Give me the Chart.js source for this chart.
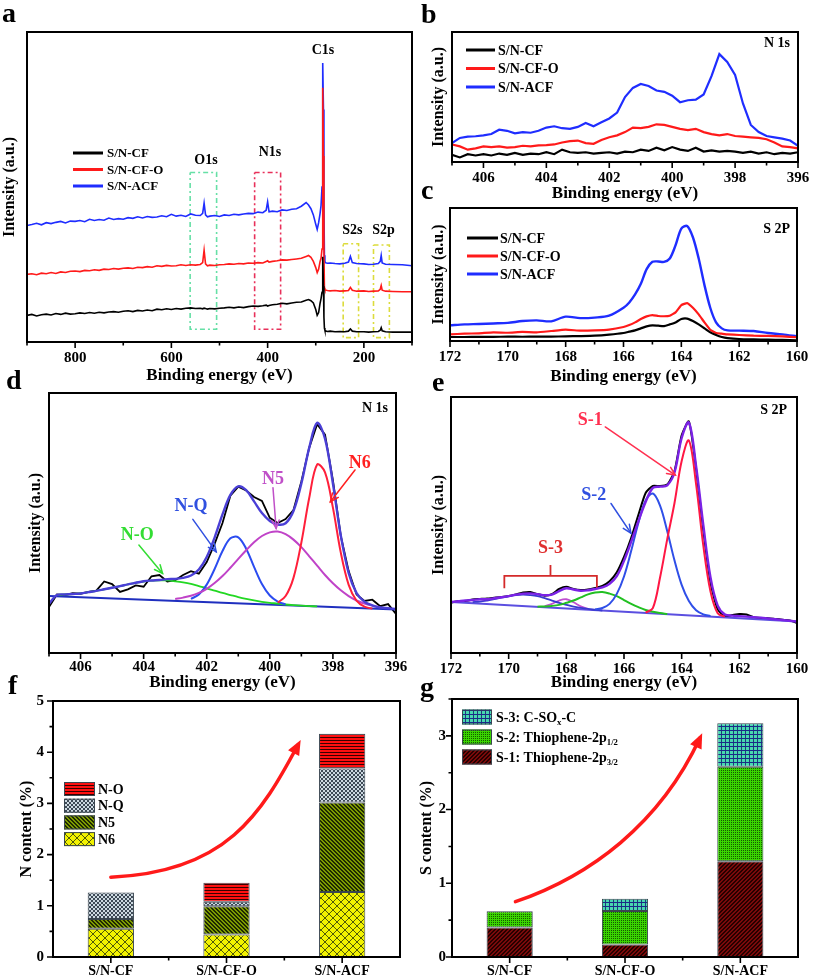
<!DOCTYPE html>
<html><head><meta charset="utf-8">
<script src="https://cdn.jsdelivr.net/npm/chart.js@4.4.1/dist/chart.umd.min.js"></script>
<style>
html,body{margin:0;padding:0;background:#fff;}
body{width:813px;height:979px;position:relative;overflow:hidden;}
canvas{position:absolute;}
.lab{position:absolute;font:bold 28px/28px "Liberation Serif",serif;color:#000;}
</style></head><body>
<canvas id="pa"></canvas><canvas id="pb"></canvas><canvas id="pc"></canvas>
<canvas id="pd"></canvas><canvas id="pe"></canvas><canvas id="pf"></canvas><canvas id="pg"></canvas>
<div class="lab" style="left:2px;top:-1px">a</div>
<div class="lab" style="left:421px;top:0px">b</div>
<div class="lab" style="left:421px;top:176px">c</div>
<div class="lab" style="left:6px;top:366px">d</div>
<div class="lab" style="left:432px;top:368px">e</div>
<div class="lab" style="left:8px;top:671px">f</div>
<div class="lab" style="left:420px;top:673px">g</div>
<script>
// ---------------- DATA ----------------
const sampleNames = ['S/N-CF', 'S/N-CF-O', 'S/N-ACF'];

// (a) survey spectra, binding energy (eV) and intensity (a.u., % of frame height)
const surveyE = [900,890,880,870,860,850,840,830,820,810,
 800,790,780,770,760,750,740,730,720,710,
 700,690,680,670,660,650,640,630,620,610,
 600,590,580,570,560,550,540,535,532,529,
 525,520,510,500,490,480,470,460,450,440,
 430,420,410,403,400,397,390,380,370,360,
 350,340,330,320,315,310,305,300,297,294,
 291,289,287,286,285,284,283,282,281,280,
 276,270,260,250,240,232,228,224,215,200,
 190,180,170,166,164,162,155,140,120,100];
const surveyCF = [8.6,8.9,8.4,8.8,9.0,8.7,9.2,8.9,9.3,9.0,
 9.1,9.4,9.2,9.5,9.3,9.6,9.4,9.7,9.8,9.6,
 9.9,10.1,9.8,10.2,10.0,10.3,10.1,10.6,10.4,10.7,
 10.5,10.8,10.6,10.9,11.0,10.8,10.9,10.7,10.9,10.8,
 10.6,10.8,10.7,10.9,11.0,11.2,11.0,11.3,11.1,11.4,
 11.6,11.5,11.7,11.9,11.6,11.8,12.0,12.2,12.5,12.3,
 12.6,12.8,12.9,13.5,13.7,13.3,12.6,10.5,8.6,9.5,
 12.5,14.0,16.0,20.0,27.5,18.0,8.0,4.5,3.8,3.6,
 3.4,3.5,3.3,3.4,3.3,3.5,4.2,3.5,3.3,3.3,
 3.2,3.3,3.4,3.8,4.6,3.6,3.3,3.2,3.2,3.2];
const surveyCFO = [21.8,22.0,21.7,22.2,22.0,22.4,22.1,22.6,22.4,22.8,
 22.9,22.7,23.1,23.0,23.3,23.1,23.5,23.4,23.7,23.5,
 23.8,23.9,23.7,24.1,24.0,24.3,24.1,24.6,24.4,24.7,
 24.5,24.6,24.9,24.7,24.9,24.8,25.0,25.6,29.6,25.2,
 24.6,24.8,24.7,24.9,25.0,25.2,25.1,25.3,25.2,25.5,
 25.4,25.6,25.5,26.0,26.2,25.8,26.0,26.2,26.5,26.4,
 26.6,26.8,27.0,27.6,27.9,27.3,26.0,24.0,22.4,23.5,
 26.0,27.0,30.0,50.0,82.0,60.0,30.0,17.5,17.0,16.8,
 16.6,16.5,16.6,16.4,16.5,16.6,17.6,16.7,16.4,16.5,
 16.3,16.4,16.5,17.0,18.2,16.7,16.4,16.3,16.2,16.2];
const surveyACF = [37.6,37.9,38.3,37.8,38.5,38.2,38.6,38.9,38.4,39.0,
 38.9,39.2,38.8,39.6,39.2,39.5,39.3,40.0,39.5,39.8,
 39.6,40.1,39.9,40.4,40.0,40.5,40.2,40.3,40.7,40.4,
 41.2,40.6,40.9,40.5,41.3,40.9,40.8,41.5,44.8,41.0,
 40.4,40.6,40.8,40.5,41.0,40.8,41.2,41.0,41.3,41.5,
 41.4,41.9,41.7,42.5,45.2,42.0,42.2,42.0,42.6,42.4,
 42.8,43.0,43.8,45.0,44.2,43.0,41.0,38.0,36.3,38.5,
 41.5,44.0,50.0,70.0,90.0,75.0,45.0,28.0,26.0,25.6,
 25.4,25.5,25.3,25.2,25.4,25.8,27.6,25.6,25.3,25.2,
 25.0,25.1,25.3,26.0,27.9,25.5,25.1,25.0,24.9,24.6];
// dashed boxes in survey: [E high, E low, I low, I high]
const surveyBoxO1s = [561, 506, 4.1, 54.7];
const surveyBoxN1s = [427, 373, 4.1, 54.7];
const surveyBoxS2s = [243, 211, 1.4, 31.7];
const surveyBoxS2p = [180, 147, 1.4, 31.3];

// (b) N 1s spectra
const n1sE = [407,406.75,406.5,406.25,406,405.75,405.5,405.25,405,404.75,
 404.5,404.25,404,403.75,403.5,403.25,403,402.75,402.5,402.25,
 402,401.75,401.5,401.25,401,400.75,400.5,400.25,400,399.75,
 399.5,399.25,399,398.75,398.5,398.25,398,397.75,397.5,397.25,
 397,396.75,396.5,396.25,396];
const n1sCF = [5.5,3.5,6.0,5.0,6.0,5.0,6.5,5.5,7.0,5.5,
 6.5,6.0,7.5,6.0,9.5,7.5,7.0,7.5,6.5,7.0,
 7.5,6.5,8.0,7.5,9.5,8.5,11.0,9.0,11.5,9.5,
 8.5,11.0,8.0,9.0,8.0,8.5,8.0,7.0,8.0,6.5,
 7.5,6.0,7.0,6.5,7.5];
const n1sCFO = [13.5,12.0,9.5,10.5,12.0,11.5,12.0,11.0,11.5,12.5,
 12.0,12.8,13.0,13.5,15.0,16.0,16.5,14.5,14.0,17.0,
 19.0,20.5,23.0,26.5,26.0,27.0,29.0,28.5,27.0,25.5,
 24.5,25.5,23.0,21.5,20.5,21.5,20.0,19.5,19.0,18.5,
 17.5,15.0,12.0,11.5,10.5];
const n1sACF = [14.6,18.5,19.5,19.8,20.5,21.5,24.8,24.0,22.0,23.0,
 22.5,24.0,26.5,27.5,26.0,25.5,27.0,30.0,27.5,30.5,
 33.5,38.0,50.0,57.0,60.0,58.5,55.0,54.0,51.0,46.0,
 47.5,48.0,52.0,66.0,83.0,77.0,67.0,45.0,28.5,23.0,
 20.0,19.0,18.0,16.5,12.5];

// (c) S 2p spectra
const s2pE = [172,171.5,171,170.5,170,169.5,169,168.5,168,167.5,167,166.5,166,
 165.8,165.6,165.4,165.2,165,164.8,164.6,164.4,164.2,164,163.8,163.6,163.4,163.2,163,162.8,162.6,162.4,
 162,161.5,161,160.5,160];
const s2pCF = [3.0,3.0,3.2,3.1,3.3,3.2,3.4,3.3,3.5,3.7,4.0,4.8,6.0,
 7.0,8.0,9.5,11.0,11.8,11.5,11.2,12.5,14.0,16.5,16.8,15.0,12.5,9.5,6.5,4.5,3.0,2.2,
 1.5,1.2,1.0,0.8,0.5];
const s2pCFO = [5.0,5.5,5.8,6.5,6.2,6.8,6.5,7.5,8.5,7.8,8.0,8.6,10.5,
 12.0,14.0,16.5,18.5,19.5,18.8,18.6,19.0,21.5,27.0,28.5,25.0,20.0,14.0,8.5,6.0,5.5,5.0,
 4.5,4.0,3.8,3.5,2.8];
const s2pACF = [11.8,12.5,12.8,13.2,13.6,15.0,15.5,14.8,18.3,17.2,17.6,19.0,25.0,
 29.0,35.0,43.0,54.0,59.5,59.8,59.5,62.0,72.0,84.5,86.5,78.0,62.0,42.0,25.0,14.0,9.5,8.0,
 7.8,7.5,6.0,5.0,3.5];

// (d) N 1s fit of S/N-ACF (same energy grid as n1sE)
const nFitRaw = [17.7,22.5,22.2,23.0,22.8,23.5,24.0,27.5,26.5,23.5,
 24.5,26.0,25.5,29.5,30.0,27.5,28.0,30.0,31.5,30.5,
 35.0,42.0,50.0,60.5,64.0,62.5,60.0,58.5,52.0,50.0,
 51.5,55.0,66.0,79.0,88.0,84.0,66.5,45.0,31.5,22.5,
 20.0,20.5,18.0,18.8,15.0];
const nFitSum = [19.0,22.3,22.5,22.7,22.9,23.4,23.9,24.5,25.1,25.7,
 26.4,27.0,27.6,27.9,28.1,28.4,28.5,28.9,29.8,32.1,
 36.9,44.4,53.3,60.8,64.1,62.6,58.3,53.8,50.8,49.4,
 49.9,54.6,65.2,79.0,88.5,82.4,65.2,45.2,30.7,23.0,
 19.7,18.3,17.5,17.2,16.9];
const nFitNO = [null,22.3,22.5,22.7,22.9,23.4,23.9,24.5,25.1,25.7,
 26.4,27.0,27.5,27.8,27.9,27.9,27.6,27.2,26.6,25.7,
 24.9,24.0,23.1,22.3,21.5,20.8,20.2,19.7,19.3,19.0,
 18.65,18.4,18.2,18.05,17.9,null,null,null,null,null,
 null,null,null,null,null];
const nFitNQ = [null,null,null,null,null,null,null,null,null,null,
 null,null,null,null,null,null,null,null,20.8,22.5,
 26.3,32.3,39.2,44.1,44.5,40.1,33.1,26.5,22.1,19.8,
 18.7,null,null,null,null,null,null,null,null,null,
 null,null,null,null,null];
const nFitN5 = [null,null,null,null,null,null,null,null,null,null,
 null,null,null,null,null,null,20.8,21.3,22.0,23.1,
 24.7,26.9,29.6,32.8,36.2,39.5,42.6,45.0,46.4,46.7,
 45.7,43.6,40.7,37.2,33.6,30.0,26.8,24.1,21.9,20.2,
 19.0,18.2,17.6,null,null];
const nFitN6 = [null,null,null,null,null,null,null,null,null,null,
 null,null,null,null,null,null,null,null,null,null,
 null,null,null,null,null,null,null,null,null,19.4,
 21.9,28.9,42.5,59.7,72.5,69.5,55.9,38.6,26.2,20.1,
 17.8,17.05,null,null,null];
const nBaseE = [407, 396];
const nBaseI = [21.9, 16.7];

// (e) S 2p fit of S/N-ACF
const sFitE = [172,171.75,171.5,171.25,171,170.75,170.5,170.25,170,169.75,
 169.5,169.25,169,168.75,168.5,168.25,168,167.75,167.5,167.25,
 167,166.75,166.5,166.25,166,165.75,165.5,165.25,165,164.75,
 164.5,164.25,164,163.75,163.5,163.25,163,162.75,162.5,162.25,
 162,161.75,161.5,161.25,161,160.75,160.5,160.25,160];
const sFitRaw = [19.6,20.3,20.3,20.9,21.1,21.3,21.6,21.9,22.3,22.9,
 23.6,23.8,23.0,22.4,23.0,25.0,25.9,25.0,24.6,24.8,
 25.4,26.2,28.0,31.5,37.5,45.0,54.0,62.5,65.3,65.2,
 65.8,71.0,85.0,90.5,72.0,48.0,27.5,17.0,14.4,14.8,
 15.2,15.0,14.0,13.7,13.6,13.3,13.0,12.7,11.8];
const sFitSum = [19.9,20.2,20.5,20.7,21.0,21.0,21.4,21.8,22.2,22.8,
 23.2,23.3,23.0,22.6,22.8,24.2,25.3,24.8,24.3,24.5,
 25.0,25.6,27.0,30.0,36.0,43.5,51.5,59.0,64.5,65.0,
 65.5,70.5,84.0,90.0,73.0,50.0,29.5,18.5,15.0,14.6,
 14.4,14.2,14.0,13.8,13.5,13.2,12.9,12.6,12.3];
const sFitS1 = [null,null,null,null,null,null,null,null,null,null,
 null,null,null,null,null,null,null,null,null,null,
 null,null,null,null,null,null,null,15.8,17.5,29.5,
 44.5,58.5,75.0,83.0,66.0,42.0,24.0,15.5,14.2,null,
 null,null,null,null,null,null,null,null,null];
const sFitS2 = [null,null,null,null,null,null,null,null,null,null,
 null,null,null,null,null,null,null,null,null,null,
 17.0,17.6,19.2,23.1,29.9,39.9,50.9,59.6,62.3,57.6,
 47.6,36.2,26.6,20.3,16.7,15.1,14.4,null,null,null,
 null,null,null,null,null,null,null,null,null];
const sFitS3a = [null,null,null,null,null,null,null,null,null,null,
 null,null,18.1,18.2,18.4,18.8,19.6,20.5,21.7,22.9,
 23.6,23.8,23.2,22.2,20.7,19.2,17.9,16.8,16.1,15.6,
 15.2,null,null,null,null,null,null,null,null,null,
 null,null,null,null,null,null,null,null,null];
const sFitS3b = [null,null,null,19.9,20.1,20.5,21.0,21.6,22.1,22.6,
 22.8,22.6,22.2,21.4,20.5,19.6,18.8,18.1,17.6,17.2,
 16.9,16.6,null,null,null,null,null,null,null,null,
 null,null,null,null,null,null,null,null,null,null,
 null,null,null,null,null,null,null,null,null];
const sFitS3c = [null,null,null,null,null,null,null,null,null,null,
 null,null,null,18.3,19.2,20.5,21.0,19.8,18.2,17.2,
 null,null,null,null,null,null,null,null,null,null,
 null,null,null,null,null,null,null,null,null,null,
 null,null,null,null,null,null,null,null,null];
const sBaseE = [172, 160];
const sBaseI = [19.9, 12.3];
const s3BracketE = [170.15,170.15,168.55,168.55,168.55,166.94,166.94];
const s3BracketI = [25.3,30.1,30.1,34.4,30.1,30.1,25.3];

// (f) N content (%)
const nN6 = [0.55, 0.44, 1.27];
const nN5 = [0.19, 0.55, 1.75];
const nNQ = [0.52, 0.09, 0.66];
const nNO = [null, 0.37, 0.68];
// (g) S content (%)
const sS1 = [0.40, 0.17, 1.30];
const sS2 = [0.22, 0.455, 1.28];
const sS3 = [null, 0.165, 0.59];

// ---------------- HELPERS ----------------
const FONT = '"Liberation Serif", "Times New Roman", serif';
Chart.defaults.font.family = FONT;
Chart.defaults.font.weight = 'bold';
Chart.defaults.color = '#000';

const xy = (xs, ys) => xs.map((x, i) => ({x: x, y: ys[i]}));
const boxPts = b => [{x:b[0],y:b[3]},{x:b[1],y:b[3]},{x:b[1],y:b[2]},{x:b[0],y:b[2]},{x:b[0],y:b[3]}];

function tile(w, h, bg, fn) {
  const c = document.createElement('canvas'); c.width = w; c.height = h;
  const g = c.getContext('2d'); g.fillStyle = bg; g.fillRect(0, 0, w, h);
  for (let y = 0; y < h; y++) for (let x = 0; x < w; x++) {
    const col = fn(x, y); if (col) { g.fillStyle = col; g.fillRect(x, y, 1, 1); }
  }
  return g.createPattern(c, 'repeat');
}
const PAT = {
  N6: tile(8, 8, '#f2f200', (x, y) => (x === y || x + y === 7) ? '#4f5a08' : null),
  N5: tile(4, 4, '#7d9a00', (x, y) => ((x - y + 8) % 4 < 2) ? '#1e2a00' : null),
  NQ: tile(4, 4, '#cdd9e1', (x, y) => ((Math.floor(x / 2) + Math.floor(y / 2)) % 2 === 0) ? '#3e4a56' : null),
  NO: tile(1, 3, '#ff1010', (x, y) => y === 2 ? '#3a0000' : null),
  S1: tile(4, 4, '#7a0a0a', (x, y) => ((x + y) % 4 < 2) ? '#260000' : null),
  S2: tile(4, 4, '#3ad400', (x, y) => (x % 2 === 0 && y % 2 === 0) ? '#145a00' : null),
  S3: tile(4, 4, '#48d8b0', (x, y) => y === 0 ? '#1a2a8a' : (x === 0 ? '#203a7a' : null))
};

function richText(ctx, str, x, y, size) {
  const parts = str.split(/(_\{[^}]*\})/);
  let cx = x;
  parts.forEach(p => {
    if (!p) return;
    if (p.startsWith('_{')) {
      const t = p.slice(2, -1);
      ctx.font = 'bold ' + (size * 0.62) + 'px ' + FONT;
      ctx.fillText(t, cx, y + size * 0.32); cx += ctx.measureText(t).width;
    } else {
      ctx.font = 'bold ' + size + 'px ' + FONT;
      ctx.fillText(p, cx, y); cx += ctx.measureText(p).width;
    }
  });
}
function vHead(ctx, x1, y1, x2, y2, len, ang) {
  const a = Math.atan2(y2 - y1, x2 - x1);
  ctx.beginPath();
  ctx.moveTo(x2 - len * Math.cos(a - ang), y2 - len * Math.sin(a - ang));
  ctx.lineTo(x2, y2);
  ctx.lineTo(x2 - len * Math.cos(a + ang), y2 - len * Math.sin(a + ang));
  ctx.stroke();
}

const deco = {
  id: 'deco',
  afterDraw(chart) {
    const o = chart.options.plugins.deco || {};
    const ctx = chart.ctx, ca = chart.chartArea;
    const xs = chart.scales.x, ys = chart.scales.y;
    ctx.save();
    ctx.textBaseline = 'middle';
    // texts in data coordinates
    (o.texts || []).forEach(t => {
      ctx.font = 'bold ' + (t.size || 14) + 'px ' + FONT;
      ctx.fillStyle = t.color || '#000';
      ctx.textAlign = 'center';
      ctx.fillText(t.text, xs.getPixelForValue(t.x), ys.getPixelForValue(t.y));
    });
    // straight arrows
    (o.arrows || []).forEach(a => {
      const x1 = xs.getPixelForValue(a.from[0]), y1 = ys.getPixelForValue(a.from[1]);
      const x2 = xs.getPixelForValue(a.to[0]), y2 = ys.getPixelForValue(a.to[1]);
      ctx.strokeStyle = a.color; ctx.lineWidth = 1.5; ctx.lineCap = 'round';
      ctx.beginPath(); ctx.moveTo(x1, y1); ctx.lineTo(x2, y2); ctx.stroke();
      vHead(ctx, x1, y1, x2, y2, 9, 0.42);
    });
    // curved arrows
    (o.curves || []).forEach(c => {
      const P = c.pts.map(p => [xs.getPixelForValue(p[0]), ys.getPixelForValue(p[1])]);
      ctx.strokeStyle = c.color; ctx.lineWidth = c.width; ctx.lineCap = 'round';
      ctx.beginPath(); ctx.moveTo(P[0][0], P[0][1]);
      ctx.bezierCurveTo(P[1][0], P[1][1], P[2][0], P[2][1], P[3][0], P[3][1]); ctx.stroke();
      const a = Math.atan2(P[3][1] - P[2][1], P[3][0] - P[2][0]);
      const L = c.head, W = c.head * 0.42, dx = Math.cos(a), dy = Math.sin(a);
      const tx = P[3][0] + dx * L * 0.35, ty = P[3][1] + dy * L * 0.35;
      const bx = P[3][0] - dx * L * 0.65, by = P[3][1] - dy * L * 0.65;
      ctx.fillStyle = c.color; ctx.beginPath();
      ctx.moveTo(tx, ty); ctx.lineTo(bx - dy * W, by + dx * W); ctx.lineTo(bx + dy * W, by - dx * W);
      ctx.closePath(); ctx.fill();
    });
    // corner label
    if (o.corner) {
      ctx.font = 'bold 14px ' + FONT; ctx.fillStyle = '#000'; ctx.textAlign = 'right';
      ctx.fillText(o.corner.text, ca.right + o.corner.dx, ca.top + o.corner.dy);
    }
    // line legend
    if (o.lineLegend) {
      const L = o.lineLegend;
      L.items.forEach((di, k) => {
        const ds = chart.data.datasets[di];
        const x = ca.left + L.dx, y = ca.top + L.dy + k * L.gap;
        ctx.strokeStyle = ds.borderColor; ctx.lineWidth = 3; ctx.lineCap = 'butt';
        ctx.beginPath(); ctx.moveTo(x, y); ctx.lineTo(x + L.len, y); ctx.stroke();
        ctx.fillStyle = '#000'; ctx.textAlign = 'left';
        ctx.font = 'bold ' + L.size + 'px ' + FONT;
        ctx.fillText(ds.label, x + L.textDx, y + 1);
      });
    }
    // bar legend
    if (o.barLegend) {
      const L = o.barLegend;
      L.items.forEach((di, k) => {
        const ds = chart.data.datasets[di];
        const x = ca.left + L.dx, y = ca.top + L.dy + k * L.gap;
        ctx.fillStyle = ds.backgroundColor; ctx.fillRect(x, y - L.h / 2, L.w, L.h);
        ctx.strokeStyle = '#3a4650'; ctx.lineWidth = 1; ctx.strokeRect(x + 0.5, y - L.h / 2 + 0.5, L.w - 1, L.h - 1);
        ctx.fillStyle = '#000'; ctx.textAlign = 'left';
        richText(ctx, ds.label, x + L.textDx, y + 1, L.size);
      });
    }
    // frame
    ctx.strokeStyle = '#000'; ctx.lineWidth = 2; ctx.lineCap = 'butt';
    ctx.strokeRect(ca.left, ca.top, ca.right - ca.left, ca.bottom - ca.top);
    // x ticks (outward)
    ctx.lineWidth = 1.6;
    ctx.beginPath();
    if (o.category) {
      const n = xs.ticks.length;
      for (let i = 0; i < n; i++) {
        const px = xs.getPixelForValue(i);
        ctx.moveTo(px, ca.bottom); ctx.lineTo(px, ca.bottom + 6);
        if (i < n - 1) { const pm = xs.getPixelForValue(i + 0.5); ctx.moveTo(pm, ca.bottom); ctx.lineTo(pm, ca.bottom + 3.5); }
      }
    } else {
      xs.ticks.forEach(t => {
        const px = xs.getPixelForValue(t.value);
        const len = (t.label !== '' && t.label != null) ? 6 : 3.5;
        ctx.moveTo(px, ca.bottom); ctx.lineTo(px, ca.bottom + len);
      });
    }
    if (o.yTicks) {
      ys.ticks.forEach(t => {
        const py = ys.getPixelForValue(t.value);
        const len = (t.label !== '' && t.label != null) ? 6 : 3.5;
        ctx.moveTo(ca.left, py); ctx.lineTo(ca.left - len, py);
      });
    }
    ctx.stroke();
    ctx.restore();
  }
};

function place(id, g) {
  const cv = document.getElementById(id);
  cv.width = g.w; cv.height = g.h;
  cv.style.left = g.x + 'px'; cv.style.top = g.y + 'px';
  return cv;
}

function spectrum(id, g, c) {
  const cv = place(id, g);
  return new Chart(cv, {
    type: 'line',
    data: { datasets: c.datasets },
    options: {
      responsive: false, animation: false, devicePixelRatio: 1,
      layout: { padding: { top: g.pt, right: g.pr, left: 0, bottom: 0 } },
      plugins: { legend: { display: false }, tooltip: { enabled: false }, deco: c.deco },
      elements: { point: { radius: 0 }, line: { borderWidth: 2, tension: 0 } },
      scales: {
        x: {
          type: 'linear', reverse: true, min: c.xmin, max: c.xmax,
          grid: { display: false, drawTicks: false }, border: { display: false },
          ticks: { stepSize: c.step, autoSkip: false, maxRotation: 0, padding: g.tp,
                   font: { size: 15, weight: 'bold' }, color: '#000', callback: c.label },
          title: { display: true, text: 'Binding energy (eV)', font: { size: 17, weight: 'bold' }, color: '#000', padding: 0 },
          afterFit: s => { s.height = g.hx; s.paddingLeft = 0; s.paddingRight = 0; }
        },
        y: {
          min: 0, max: 100,
          grid: { display: false, drawTicks: false }, border: { display: false },
          ticks: { display: false },
          title: { display: true, text: 'Intensity (a.u.)', font: { size: 16, weight: 'bold' }, color: '#000', padding: 0 },
          afterFit: s => { s.width = g.wy; s.paddingTop = 0; s.paddingBottom = 0; }
        }
      }
    },
    plugins: [deco]
  });
}

function bars(id, g, c) {
  const cv = place(id, g);
  return new Chart(cv, {
    type: 'bar',
    data: { labels: sampleNames, datasets: c.datasets.map(d => Object.assign({
      borderColor: '#3a4650', borderWidth: 1, borderSkipped: false,
      barPercentage: 0.4, categoryPercentage: 1 }, d)) },
    options: {
      responsive: false, animation: false, devicePixelRatio: 1,
      layout: { padding: { top: g.pt, right: g.pr, left: 0, bottom: 0 } },
      plugins: { legend: { display: false }, tooltip: { enabled: false }, deco: c.deco },
      scales: {
        x: {
          stacked: true, grid: { display: false, drawTicks: false }, border: { display: false },
          ticks: { padding: g.tp, font: { size: 14, weight: 'bold' }, color: '#000', maxRotation: 0 },
          afterFit: s => { s.height = g.hx; s.paddingLeft = 0; s.paddingRight = 0; }
        },
        y: {
          stacked: true, min: 0, max: c.ymax,
          grid: { display: false, drawTicks: false }, border: { display: false },
          ticks: { stepSize: 0.5, autoSkip: false, padding: g.yp, font: { size: 15, weight: 'bold' }, color: '#000',
                   callback: v => Number.isInteger(v) ? v : '' },
          title: { display: true, text: c.ytitle, font: { size: 16, weight: 'bold' }, color: '#000', padding: 0 },
          afterFit: s => { s.width = g.wy; s.paddingTop = 0; s.paddingBottom = 0; }
        }
      }
    },
    plugins: [deco]
  });
}

const BLK = '#000000', RED = '#ff1a1a', BLU = '#1f2dff';

// ---------------- (a) ----------------
spectrum('pa', { x: 0, y: 0, w: 430, h: 386, pt: 32, pr: 18, wy: 27, hx: 44, tp: 7 }, {
  xmin: 100, xmax: 900, step: 100, label: v => (v % 200 === 0 ? v : ''),
  datasets: [
    { label: sampleNames[0], data: xy(surveyE, surveyCF), borderColor: BLK, borderWidth: 1.6 },
    { label: sampleNames[1], data: xy(surveyE, surveyCFO), borderColor: RED, borderWidth: 1.6 },
    { label: sampleNames[2], data: xy(surveyE, surveyACF), borderColor: BLU, borderWidth: 1.6 },
    { data: boxPts(surveyBoxO1s), borderColor: '#66e0a6', borderWidth: 1.6, borderDash: [5, 3, 2, 3] },
    { data: boxPts(surveyBoxN1s), borderColor: '#e8305a', borderWidth: 1.6, borderDash: [5, 3, 2, 3] },
    { data: boxPts(surveyBoxS2s), borderColor: '#dcdc3c', borderWidth: 1.6, borderDash: [5, 3, 2, 3] },
    { data: boxPts(surveyBoxS2p), borderColor: '#dcdc3c', borderWidth: 1.6, borderDash: [5, 3, 2, 3] }
  ],
  deco: {
    lineLegend: { items: [0, 1, 2], dx: 46, dy: 121, gap: 16.5, len: 30, textDx: 34, size: 13 },
    texts: [
      { text: 'C1s', x: 285, y: 94.2 }, { text: 'O1s', x: 528, y: 58.5 }, { text: 'N1s', x: 395, y: 61.2 },
      { text: 'S2s', x: 224, y: 36 }, { text: 'S2p', x: 159, y: 36 }
    ]
  }
});

// ---------------- (b) ----------------
spectrum('pb', { x: 429, y: 0, w: 384, h: 204, pt: 32, pr: 15, wy: 23, hx: 42, tp: 7 }, {
  xmin: 396, xmax: 407, step: 1, label: v => (v % 2 === 0 ? v : ''),
  datasets: [
    { label: sampleNames[0], data: xy(n1sE, n1sCF), borderColor: BLK, borderWidth: 2.2 },
    { label: sampleNames[1], data: xy(n1sE, n1sCFO), borderColor: RED, borderWidth: 2.2 },
    { label: sampleNames[2], data: xy(n1sE, n1sACF), borderColor: BLU, borderWidth: 2.2 }
  ],
  deco: {
    lineLegend: { items: [0, 1, 2], dx: 14, dy: 18, gap: 18.5, len: 29, textDx: 32, size: 14 },
    corner: { text: 'N 1s', dx: -8, dy: 11 }
  }
});

// ---------------- (c) ----------------
spectrum('pc', { x: 429, y: 190, w: 384, h: 197, pt: 18, pr: 16, wy: 21, hx: 46, tp: 7 }, {
  xmin: 160, xmax: 172, step: 1, label: v => (v % 2 === 0 ? v : ''),
  datasets: [
    { label: sampleNames[0], data: xy(s2pE, s2pCF), borderColor: BLK, borderWidth: 2.2, tension: 0.2 },
    { label: sampleNames[1], data: xy(s2pE, s2pCFO), borderColor: RED, borderWidth: 2.2, tension: 0.1 },
    { label: sampleNames[2], data: xy(s2pE, s2pACF), borderColor: BLU, borderWidth: 2.4, tension: 0.3 }
  ],
  deco: {
    lineLegend: { items: [0, 1, 2], dx: 17, dy: 30, gap: 18, len: 31, textDx: 33, size: 14 },
    corner: { text: 'S 2P', dx: -7, dy: 21 }
  }
});

// ---------------- (d) ----------------
spectrum('pd', { x: 26, y: 370, w: 388, h: 323, pt: 23, pr: 18, wy: 23, hx: 40, tp: 5 }, {
  xmin: 396, xmax: 407, step: 1, label: v => (v % 2 === 0 ? v : ''),
  datasets: [
    { data: xy(n1sE, nFitSum), borderColor: '#4a3fd6', borderWidth: 2.4, tension: 0.35 },
    { data: xy(n1sE, nFitN6), borderColor: '#ff1f3a', borderWidth: 2, tension: 0.35 },
    { data: xy(n1sE, nFitN5), borderColor: '#c043c8', borderWidth: 2, tension: 0.35 },
    { data: xy(n1sE, nFitNQ), borderColor: '#2b4cf0', borderWidth: 2, tension: 0.35 },
    { data: xy(n1sE, nFitNO), borderColor: '#22d822', borderWidth: 1.8, tension: 0.35 },
    { data: xy(nBaseE, nBaseI), borderColor: '#1f2fbf', borderWidth: 2 },
    { data: xy(n1sE, nFitRaw), borderColor: '#000', borderWidth: 1.8 }
  ],
  deco: {
    corner: { text: 'N 1s', dx: -8, dy: 15 },
    texts: [
      { text: 'N-O', x: 404.2, y: 45.4, color: '#33dd33', size: 18 },
      { text: 'N-Q', x: 402.5, y: 56.3, color: '#3050e0', size: 18 },
      { text: 'N5', x: 399.9, y: 66.6, color: '#c050c8', size: 18 },
      { text: 'N6', x: 397.15, y: 72.8, color: '#ff2020', size: 18 }
    ],
    arrows: [
      { from: [404.15, 41.5], to: [403.4, 30.6], color: '#33dd33' },
      { from: [402.44, 51.4], to: [401.7, 38.9], color: '#3050e0' },
      { from: [399.9, 63.6], to: [399.8, 47.9], color: '#c050c8' },
      { from: [397.3, 70.4], to: [398.08, 58.2], color: '#ff2020' }
    ]
  }
});

// ---------------- (e) ----------------
spectrum('pe', { x: 429, y: 370, w: 384, h: 323, pt: 27, pr: 16, wy: 22, hx: 40, tp: 7 }, {
  xmin: 160, xmax: 172, step: 1, label: v => (v % 2 === 0 ? v : ''),
  datasets: [
    { data: xy(sFitE, sFitSum), borderColor: '#7b22e6', borderWidth: 2.4, tension: 0.35 },
    { data: xy(sFitE, sFitS1), borderColor: '#ff1744', borderWidth: 2, tension: 0.35 },
    { data: xy(sFitE, sFitS2), borderColor: '#2f4fe8', borderWidth: 2, tension: 0.35 },
    { data: xy(sFitE, sFitS3a), borderColor: '#22c022', borderWidth: 2, tension: 0.35 },
    { data: xy(sFitE, sFitS3b), borderColor: '#3a3ad0', borderWidth: 1.8, tension: 0.35 },
    { data: xy(sFitE, sFitS3c), borderColor: '#c050d0', borderWidth: 1.8, tension: 0.35 },
    { data: xy(sBaseE, sBaseI), borderColor: '#5b4fe0', borderWidth: 2 },
    { data: xy(s3BracketE, s3BracketI), borderColor: '#d42a2a', borderWidth: 1.8 },
    { data: xy(sFitE, sFitRaw), borderColor: '#000', borderWidth: 2, tension: 0.2 }
  ],
  deco: {
    corner: { text: 'S 2P', dx: -10, dy: 13 },
    texts: [
      { text: 'S-1', x: 167.17, y: 90.9, color: '#ff3050', size: 18 },
      { text: 'S-2', x: 167.05, y: 61.7, color: '#3050e0', size: 18 },
      { text: 'S-3', x: 168.55, y: 40.9, color: '#e03030', size: 18 }
    ],
    arrows: [
      { from: [166.65, 88.3], to: [164.22, 69.5], color: '#ff3050' },
      { from: [166.45, 58.4], to: [165.76, 46.8], color: '#3050e0' }
    ]
  }
});

// ---------------- (f) ----------------
bars('pf', { x: 17, y: 690, w: 393, h: 289, pt: 11, pr: 10, wy: 36, hx: 22, tp: 6, yp: 9 }, {
  ymax: 5, ytitle: 'N content (%)',
  datasets: [
    { label: 'N6', data: nN6, backgroundColor: PAT.N6 },
    { label: 'N5', data: nN5, backgroundColor: PAT.N5 },
    { label: 'N-Q', data: nNQ, backgroundColor: PAT.NQ },
    { label: 'N-O', data: nNO, backgroundColor: PAT.NO }
  ],
  deco: {
    category: true, yTicks: true,
    barLegend: { items: [3, 2, 1, 0], dx: 11, dy: 88, gap: 16.7, w: 31, h: 14, textDx: 34, size: 14 },
    curves: [{ pts: [[0.0, 1.56], [1.0, 1.65], [1.3, 2.8], [1.62, 4.15]], color: '#ff1a1a', width: 3.5, head: 15 }]
  }
});

// ---------------- (g) ----------------
bars('pg', { x: 417, y: 690, w: 396, h: 289, pt: 9, pr: 15, wy: 35, hx: 22, tp: 6, yp: 6 }, {
  ymax: 3.5, ytitle: 'S content (%)',
  datasets: [
    { label: 'S-1: Thiophene-2p_{3/2}', data: sS1, backgroundColor: PAT.S1 },
    { label: 'S-2: Thiophene-2p_{1/2}', data: sS2, backgroundColor: PAT.S2 },
    { label: 'S-3: C-SO_{x}-C', data: sS3, backgroundColor: PAT.S3 }
  ],
  deco: {
    category: true, yTicks: true,
    barLegend: { items: [2, 1, 0], dx: 10, dy: 18, gap: 20, w: 30, h: 15, textDx: 34, size: 14 },
    curves: [{ pts: [[0.05, 0.75], [0.7, 1.1], [1.3, 1.8], [1.65, 2.97]], color: '#ff1a1a', width: 3.5, head: 15 }]
  }
});
</script>
</body></html>
